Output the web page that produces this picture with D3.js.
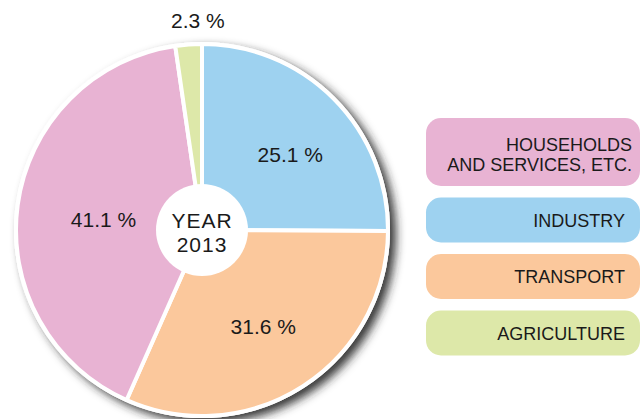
<!DOCTYPE html>
<html lang="en">
	<head>
		<meta charset="utf-8">
		<title>Energy consumption by sector, 2013</title>
		<script type="text/javascript" src="https://cdn.jsdelivr.net/npm/d3@7"></script>
		<style type="text/css">
			body { margin: 0; background: #fff; }
			svg { display: block; font-family: "Liberation Sans", Arial, sans-serif; }
			text { fill: #1a1a1a; }
		</style>
	</head>
	<body>
		<script type="text/javascript">

			//Width and height
			var w = 641;
			var h = 419;

			// Sectors in pie order (clockwise from 12 o'clock)
			var sectors = ["Industry", "Transport", "Households", "Agriculture"];
			var shares = [25.1, 31.6, 41.1, 2.3];
			var shareLabels = ["25.1 %", "31.6 %", "41.1 %", "2.3 %"];

			// Legend, top to bottom
			var legendSectors = ["Households", "Industry", "Transport", "Agriculture"];
			var legendLabels = [["HOUSEHOLDS", "AND SERVICES, ETC."], ["INDUSTRY"], ["TRANSPORT"], ["AGRICULTURE"]];

			var centerLabel = ["YEAR", "2013"];

			var color = d3.scaleOrdinal()
				.domain(sectors)
				.range(["#9ed2f0", "#fbc89c", "#e8b3d3", "#dde8a9"]);

			var cx = 202, cy = 230;
			var radius = 186;

			var svg = d3.select("body")
						.append("svg")
						.attr("width", w)
						.attr("height", h);

			// soft shadow down and right of the disc
			var defs = svg.append("defs");
			var shadow = defs.append("filter")
				.attr("id", "shadow")
				.attr("x", "-20%").attr("y", "-20%")
				.attr("width", "140%").attr("height", "140%");
			shadow.append("feDropShadow")
				.attr("dx", 6)
				.attr("dy", 5)
				.attr("stdDeviation", 5)
				.attr("flood-color", "#222")
				.attr("flood-opacity", 0.9);

			var data = sectors.map(function(s, i) {
				return { sector: s, value: shares[i], label: shareLabels[i] };
			});

			var pie = d3.pie()
				.sort(null)
				.value(function(d) { return d.value; });

			var arc = d3.arc()
				.innerRadius(0)
				.outerRadius(radius);

			var g = svg.append("g")
				.attr("transform", "translate(" + cx + "," + cy + ")");

			// white disc carrying the shadow
			g.append("circle")
				.attr("r", radius + 2)
				.attr("fill", "#fff")
				.attr("filter", "url(#shadow)");

			var arcs = pie(data);

			g.selectAll("path.slice")
				.data(arcs)
				.enter()
				.append("path")
				.attr("class", "slice")
				.attr("d", arc)
				.attr("fill", function(d) { return color(d.data.sector); })
				.attr("stroke", "#fff")
				.attr("stroke-width", 4)
				.attr("stroke-linejoin", "round");

			// label placement [radius, angle nudge in degrees], tuned by eye
			var labelPlace = { Industry: [116, 4.4], Transport: [115, 0.7], Households: [99, -2.1] };

			g.selectAll("text.share")
				.data(arcs)
				.enter()
				.append("text")
				.attr("class", "share")
				.attr("text-anchor", "middle")
				.attr("font-size", 21)
				.attr("transform", function(d) {
					var r, a;
					if (labelPlace[d.data.sector]) {
						r = labelPlace[d.data.sector][0];
						a = (d.startAngle + d.endAngle) / 2 + labelPlace[d.data.sector][1] * Math.PI / 180;
					} else {
						// small slice: label sits above the disc
						r = radius + 23;
						a = d.endAngle - 0.02;
					}
					return "translate(" + (Math.sin(a) * r) + "," + (-Math.cos(a) * r + 7) + ")";
				})
				.text(function(d) { return d.data.label; });

			// centre badge
			g.append("circle")
				.attr("r", 46)
				.attr("fill", "#fff");

			g.selectAll("text.year")
				.data(centerLabel)
				.enter()
				.append("text")
				.attr("class", "year")
				.attr("text-anchor", "middle")
				.attr("font-size", 21)
				.attr("letter-spacing", 1)
				.attr("x", 0)
				.attr("y", function(d, i) { return -2 + i * 24; })
				.text(function(d) { return d; });

			// legend
			var lineH = 20;
			var legendTop = 118;
			var legendItems = legendSectors.map(function(s, i) {
				var lines = legendLabels[i];
				var hgt = 22 + lines.length * 23;
				var item = { sector: s, lines: lines, y: legendTop, h: hgt };
				legendTop += hgt + 11.5;
				return item;
			});

			var legend = svg.selectAll("g.legend")
				.data(legendItems)
				.enter()
				.append("g")
				.attr("class", "legend")
				.attr("transform", function(d) { return "translate(426," + d.y + ")"; });

			legend.append("rect")
				.attr("width", 214)
				.attr("height", function(d) { return d.h; })
				.attr("rx", 15)
				.attr("ry", 15)
				.attr("fill", function(d) { return color(d.sector); });

			legend.each(function(d) {
				var n = d.lines.length;
				d3.select(this).selectAll("text")
					.data(d.lines)
					.enter()
					.append("text")
					.attr("text-anchor", "end")
					.attr("font-size", 18)
					.attr("x", n > 1 ? 206 : 199)
					.attr("y", function(t, i) { return d.h / 2 + 6.5 + (i - (n - 1) / 2) * lineH + (n > 1 ? 2 : 0); })
					.text(function(t) { return t; });
			});
		</script>
	</body>
</html>
